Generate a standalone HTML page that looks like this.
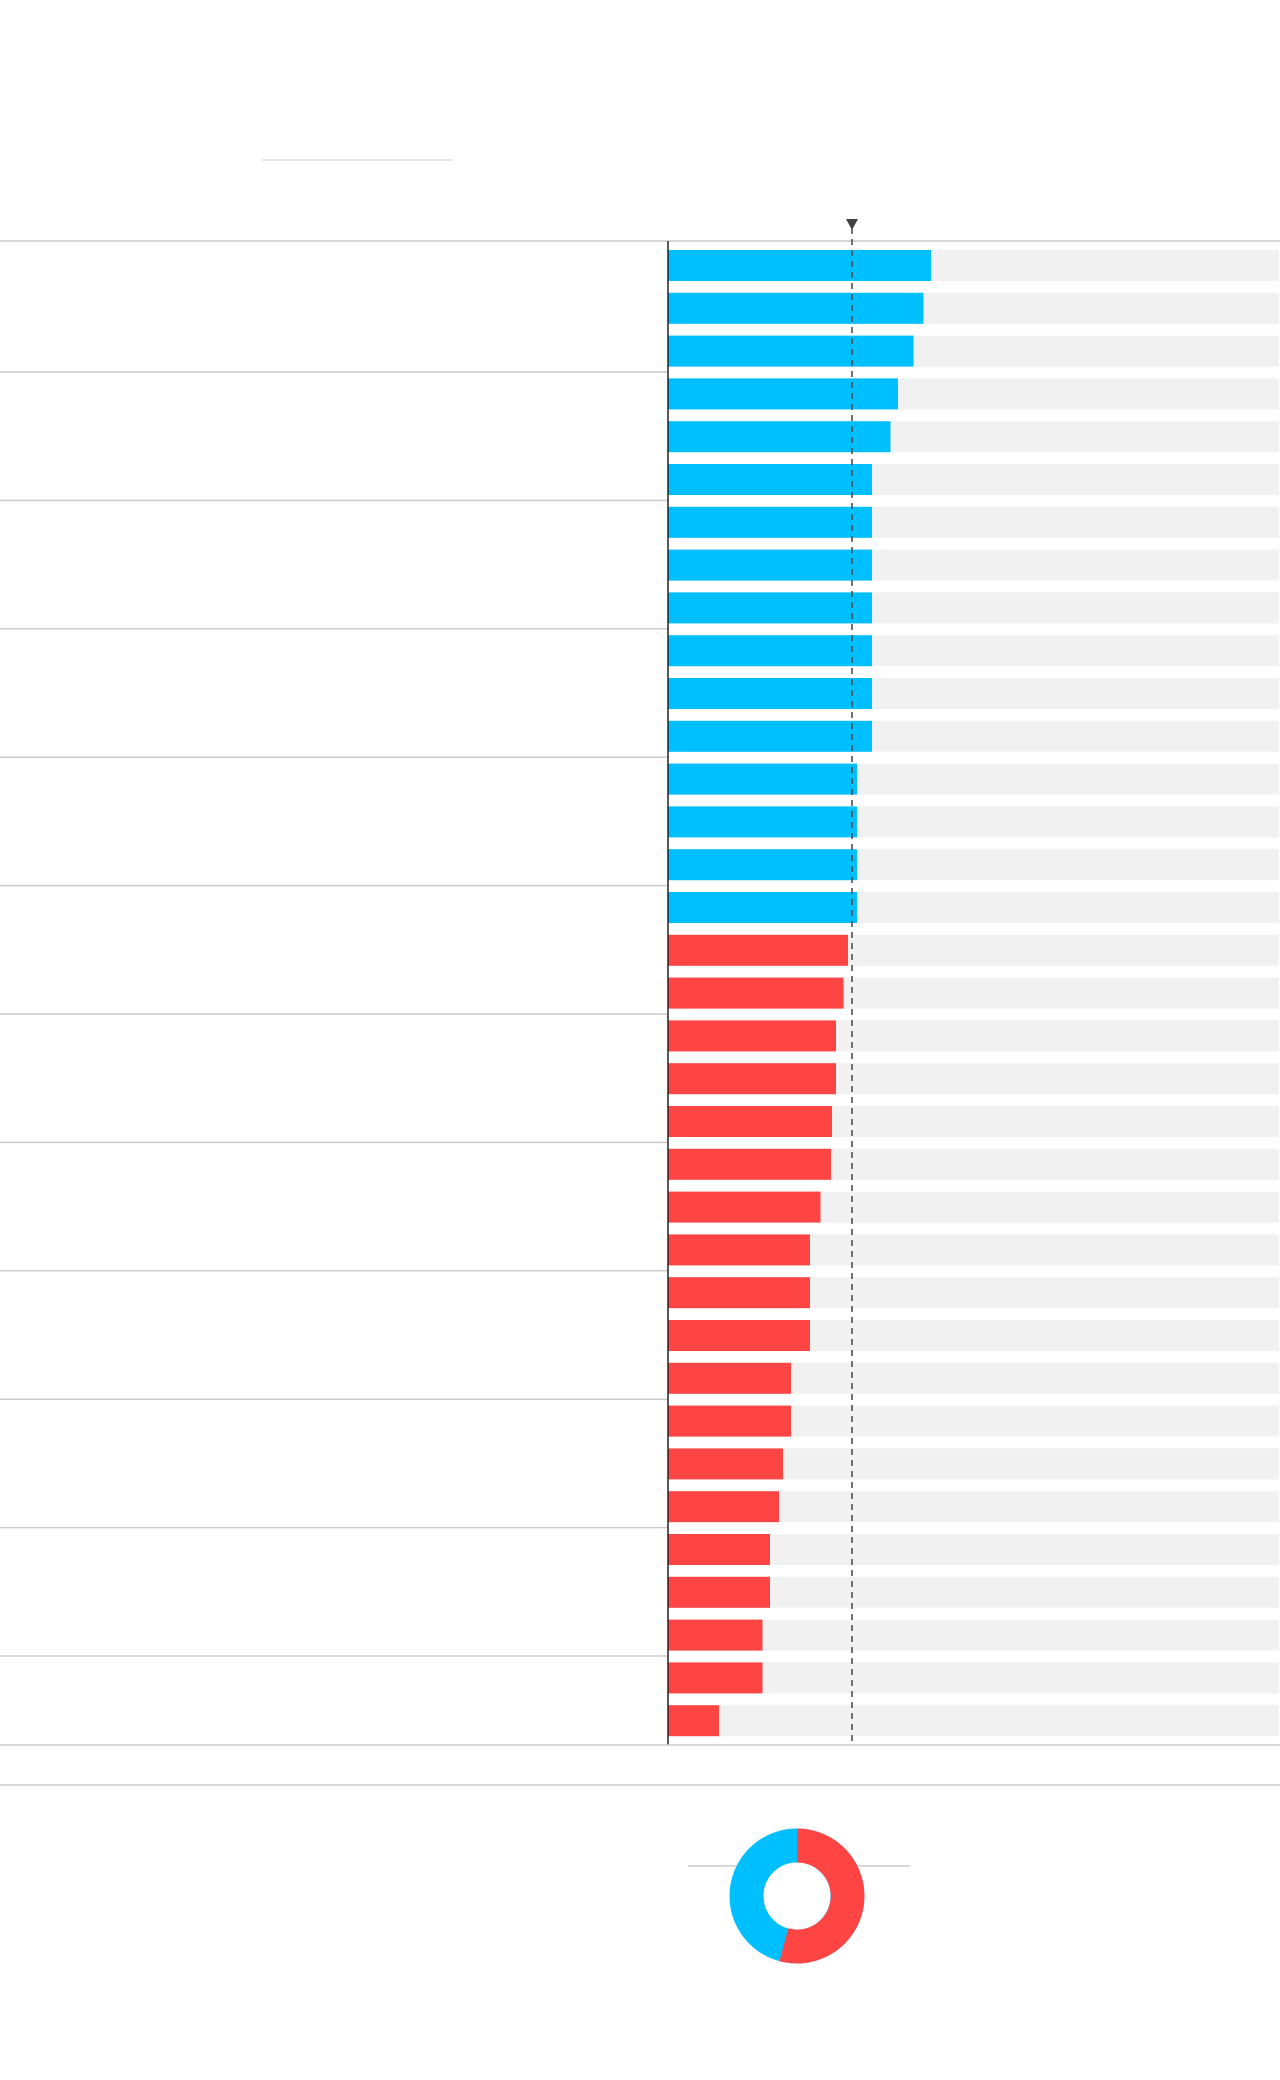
<!DOCTYPE html>
<html><head><meta charset="utf-8"><style>
html,body{margin:0;padding:0;background:#fff;}
svg{display:block;}
</style></head><body>
<svg width="1280" height="2080" viewBox="0 0 1280 2080" xmlns="http://www.w3.org/2000/svg">
<rect width="1280" height="2080" fill="#fff"/>
<line x1="262" y1="160" x2="452" y2="160" stroke="#ddd" stroke-width="1.5"/>
<line x1="0" y1="241" x2="1280" y2="241" stroke="#ccc" stroke-width="1.5"/>
<g id="bars"></g>
<g stroke="#ccc" stroke-width="1.5" id="seps"></g>
<line x1="668" y1="241" x2="668" y2="1745" stroke="#222" stroke-width="1.5"/>
<line x1="852" y1="228" x2="852" y2="1745" stroke="#444" stroke-width="1.5" stroke-dasharray="6,5"/>
<polygon points="846,219 858,219 852,230" fill="#444"/>
<line x1="0" y1="1745" x2="1280" y2="1745" stroke="#ccc" stroke-width="1.5"/>
<line x1="0" y1="1785" x2="1280" y2="1785" stroke="#ccc" stroke-width="1.5"/>
<line x1="688" y1="1866" x2="751" y2="1866" stroke="#ccc" stroke-width="1.5"/>
<line x1="840" y1="1866" x2="910" y2="1866" stroke="#ccc" stroke-width="1.5"/>
<circle cx="797" cy="1896" r="50.5" fill="none" stroke="#00BFFF" stroke-width="34"/>
<path d="M797,1828.5 A67.5,67.5 0 1 1 779.5,1961.2 L788.4,1928.3 A33.5,33.5 0 1 0 797,1862.5 Z" fill="#FF4444"/>
</svg>
<script>
var ends=[931,923.5,913.5,898,890.5,872,872,872,872,872,872,872,857,857,857,857,848,843.5,836,836,832,831,820.5,810,810,810,791,791,783,779,770,770,762.5,762.5,719];
var g=document.getElementById('bars'),s=document.getElementById('seps'),ns='http://www.w3.org/2000/svg',h='';
for(var i=0;i<35;i++){var y=250+i*42.8;
h+='<rect x="668" y="'+y+'" width="611" height="31" fill="#f1f1f1"/>';
h+='<rect x="668" y="'+y+'" width="'+(ends[i]-668)+'" height="31" fill="'+(i<16?'#00BFFF':'#FF4444')+'"/>';}
g.innerHTML=h;var t='';
for(var k=0;k<11;k++){var yy=372+k*128.4;t+='<line x1="0" y1="'+yy+'" x2="668" y2="'+yy+'"/>';}
s.innerHTML=t;
</script>
</body></html>
